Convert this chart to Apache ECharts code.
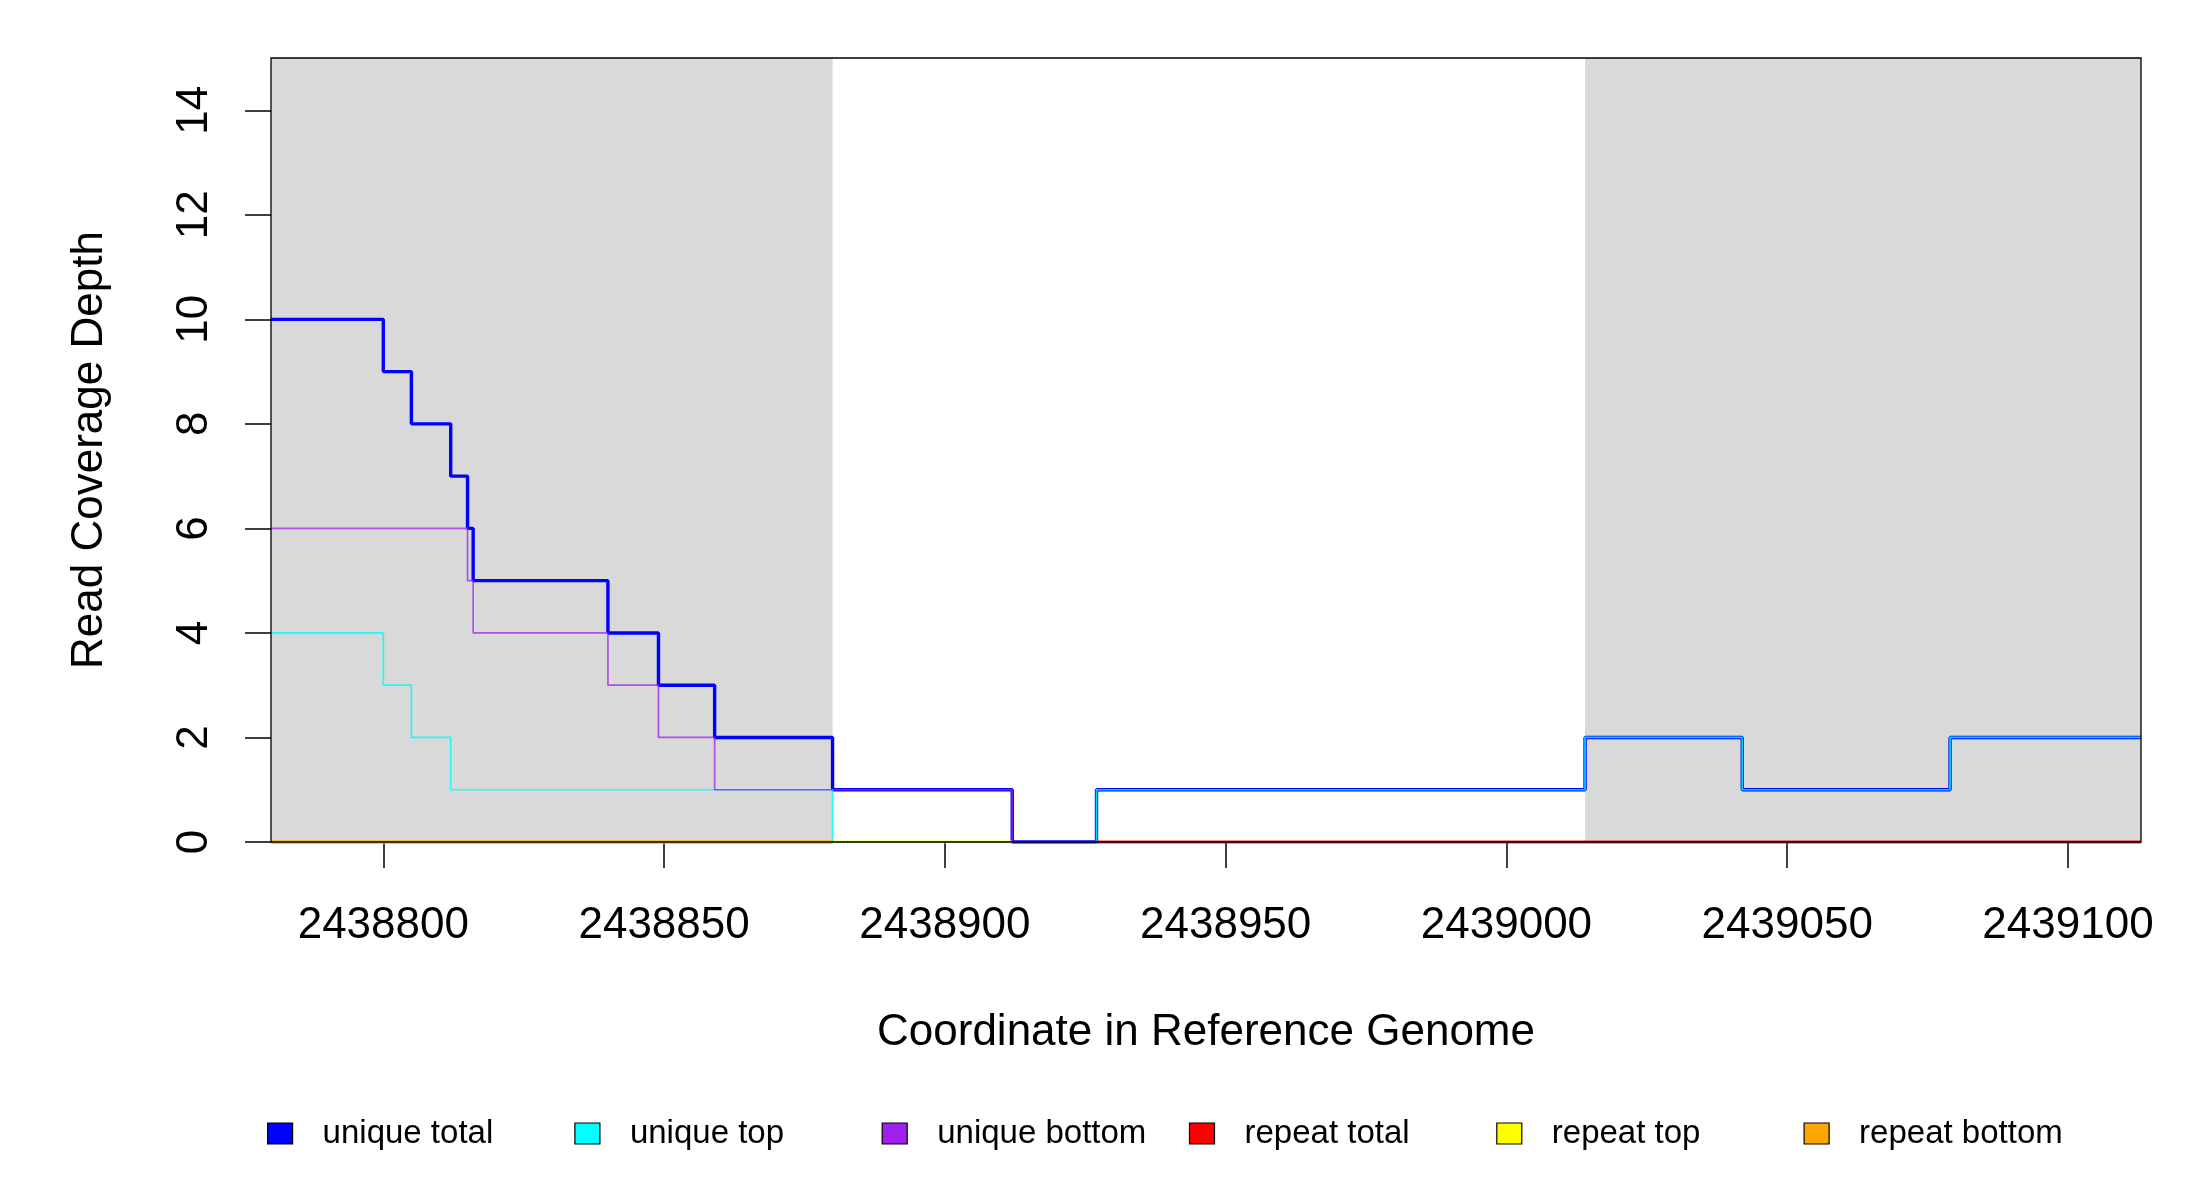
<!DOCTYPE html>
<html>
<head>
<meta charset="utf-8">
<script src="https://cdn.jsdelivr.net/npm/echarts@6/dist/echarts.min.js"></script>
<style>
html,body{margin:0;padding:0;background:#fff;}
#chart{width:2200px;height:1200px;}
</style>
</head>
<body>
<div id="chart"></div>
<script>
// ---- data ----
const xRange = [2438780, 2439113];
const yRange = [0, 15];
const xTicks = [2438800, 2438850, 2438900, 2438950, 2439000, 2439050, 2439100];
const yTicks = [0, 2, 4, 6, 8, 10, 12, 14];
const shadedRegions = [[2438780, 2438880], [2439014, 2439113]];
const seriesNames = ['unique total', 'unique top', 'unique bottom', 'repeat total', 'repeat top', 'repeat bottom'];
const seriesColors = ['#0000FF', '#00FFFF', '#A020F0', '#FF0000', '#FFFF00', '#FFA500'];
// each point: [start coordinate, depth held until next point]
const uniqueTotal = [[2438780,10],[2438800,9],[2438805,8],[2438812,7],[2438815,6],[2438816,5],[2438840,4],[2438849,3],[2438859,2],[2438880,1],[2438912,0],[2438927,1],[2439014,2],[2439042,1],[2439079,2],[2439113,2]];
const uniqueTop = [[2438780,4],[2438800,3],[2438805,2],[2438812,1],[2438880,0],[2438927,1],[2439014,2],[2439042,1],[2439079,2],[2439113,2]];
const uniqueBottom = [[2438780,6],[2438815,5],[2438816,4],[2438840,3],[2438849,2],[2438859,1],[2438912,0],[2439113,0]];
const repeatTotal = [[2438927,0],[2439113,0]];
const repeatTop = [[2438880,0],[2438912,0]];
const repeatBottom = [[2438780,0],[2438880,0]];

// ---- chart ----
const FONT = "'Liberation Sans', Arial, Helvetica, sans-serif";
const chart = echarts.init(document.getElementById('chart'), null, {renderer: 'canvas'});
const seriesData = [uniqueTotal, uniqueTop, uniqueBottom, repeatTotal, repeatTop, repeatBottom];
const widths = [3.4, 1.7, 1.7, 3.4, 3.4, 3.4];
const opacities = [1, 0.85, 0.75, 0.6, 0.5, 0.9];

const series = [{
  name: '__shade', type: 'line', data: [], z: 1, silent: true,
  markArea: {
    silent: true,
    itemStyle: {color: '#D9D9D9'},
    data: shadedRegions.map(r => [{xAxis: r[0]}, {xAxis: r[1]}])
  }
}];
seriesData.forEach((d, i) => {
  series.push({
    name: seriesNames[i], type: 'line', step: 'end', data: d,
    showSymbol: false, symbol: 'none', animation: false, z: 2 + i,
    clip: i < 3,
    color: seriesColors[i],
    lineStyle: {color: seriesColors[i], width: widths[i], opacity: opacities[i]}
  });
});

const legends = seriesNames.map((n, i) => ({
  data: [n], left: 267 + i * 307.3, top: 1117, orient: 'horizontal',
  icon: 'rect', itemWidth: 25, itemHeight: 21, padding: 0,
  itemStyle: {borderColor: '#000', borderWidth: 1.2},
  textStyle: {fontFamily: FONT, fontSize: 33, color: '#000', padding: [0, 0, 0, 25]},
  selectedMode: false
}));

chart.setOption({
  animation: false,
  backgroundColor: '#fff',
  textStyle: {fontFamily: FONT},
  grid: {left: 271, right: 59, top: 58, bottom: 358, show: true, borderColor: '#000', borderWidth: 1.3, z: 10},
  legend: legends,
  xAxis: {
    type: 'value', min: xRange[0], max: xRange[1],
    name: 'Coordinate in Reference Genome', nameLocation: 'middle', nameGap: 169,
    nameTextStyle: {fontFamily: FONT, fontSize: 44, color: '#000'},
    axisLine: {show: false},
    splitLine: {show: false},
    axisTick: {show: true, inside: false, length: 26, lineStyle: {color: '#000', width: 1.5}, customValues: xTicks},
    axisLabel: {show: true, margin: 62, fontFamily: FONT, fontSize: 44, color: '#000', customValues: xTicks, formatter: v => String(v)}
  },
  yAxis: {
    type: 'value', min: yRange[0], max: yRange[1],
    name: 'Read Coverage Depth', nameLocation: 'middle', nameGap: 159,
    nameTextStyle: {fontFamily: FONT, fontSize: 44, color: '#000'},
    axisLine: {show: false},
    splitLine: {show: false},
    axisTick: {show: true, inside: false, length: 26, lineStyle: {color: '#000', width: 1.5}, customValues: yTicks},
    axisLabel: {show: true, rotate: 90, margin: 54, fontFamily: FONT, fontSize: 44, color: '#000', customValues: yTicks, formatter: v => String(v)}
  },
  series: series
});
</script>
</body>
</html>
